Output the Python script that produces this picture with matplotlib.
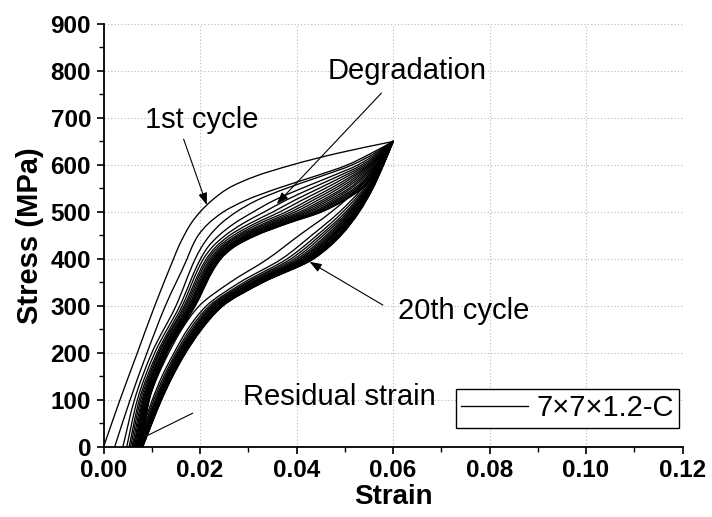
import numpy as np
import matplotlib
matplotlib.use('Agg')
import matplotlib.pyplot as plt
from matplotlib.ticker import MultipleLocator, FormatStrFormatter
from matplotlib.path import Path
from matplotlib.patches import PathPatch
from matplotlib.lines import Line2D

plt.rcParams['font.family'] = ['Liberation Sans', 'DejaVu Sans']

# ---------------- data ----------------
# Loading branches: strain at each stress level, one row per cycle (1..20)
LOAD_STRESS = [0, 100, 200, 300, 400, 425, 450, 475, 500, 525, 550, 575, 600, 625, 650]
LOAD_STRAIN = [
    [.0000, .0034, .0070, .0106, .0145, .0155, .0167, .0181, .0200, .0225, .0258, .0312, .0390, .0485, .0600],
    [.0023, .0055, .0090, .0128, .0173, .0183, .0196, .0217, .0248, .0295, .0360, .0435, .0505, .0555, .0600],
    [.0040, .0064, .0100, .0150, .0190, .0203, .0220, .0243, .0275, .0318, .0378, .0448, .0515, .0562, .0600],
    [.0048, .0070, .0106, .0158, .0201, .0216, .0239, .0270, .0310, .0354, .0410, .0470, .0527, .0567, .0600],
    [.0053, .0074, .0111, .0163, .0207, .0225, .0252, .0288, .0333, .0378, .0430, .0484, .0535, .0571, .0600],
    [.0056, .0077, .0114, .0167, .0213, .0232, .0261, .0302, .0351, .0396, .0446, .0495, .0541, .0574, .0600],
    [.0059, .0080, .0116, .0170, .0217, .0237, .0269, .0313, .0365, .0411, .0459, .0504, .0546, .0576, .0600],
    [.0062, .0082, .0119, .0173, .0221, .0242, .0276, .0322, .0378, .0424, .0470, .0512, .0550, .0578, .0600],
    [.0064, .0084, .0120, .0176, .0224, .0246, .0281, .0331, .0388, .0434, .0479, .0518, .0553, .0579, .0600],
    [.0066, .0085, .0122, .0178, .0227, .0249, .0286, .0338, .0397, .0444, .0487, .0524, .0556, .0581, .0600],
    [.0068, .0087, .0124, .0180, .0229, .0253, .0291, .0344, .0406, .0453, .0495, .0529, .0559, .0582, .0600],
    [.0070, .0088, .0125, .0181, .0231, .0255, .0295, .0350, .0413, .0460, .0501, .0534, .0562, .0583, .0600],
    [.0071, .0089, .0126, .0183, .0233, .0258, .0299, .0355, .0420, .0467, .0508, .0538, .0564, .0584, .0600],
    [.0072, .0091, .0127, .0184, .0235, .0260, .0302, .0360, .0426, .0474, .0513, .0542, .0566, .0585, .0600],
    [.0074, .0092, .0128, .0186, .0237, .0263, .0305, .0365, .0433, .0480, .0519, .0546, .0568, .0586, .0600],
    [.0075, .0093, .0129, .0187, .0239, .0265, .0308, .0369, .0438, .0485, .0523, .0549, .0570, .0587, .0600],
    [.0076, .0093, .0130, .0188, .0240, .0266, .0311, .0372, .0442, .0490, .0527, .0552, .0572, .0588, .0600],
    [.0077, .0094, .0131, .0189, .0241, .0268, .0313, .0376, .0447, .0495, .0531, .0555, .0573, .0588, .0600],
    [.0077, .0094, .0131, .0189, .0242, .0269, .0315, .0378, .0449, .0497, .0534, .0556, .0574, .0589, .0600],
    [.0078, .0095, .0132, .0190, .0243, .0270, .0316, .0380, .0452, .0500, .0536, .0558, .0575, .0589, .0600],
]

# Unloading branches: strain at each stress level, one row per cycle (1..20)
UNLOAD_STRESS = [0, 50, 100, 150, 200, 250, 300, 350, 400, 450, 500, 550, 600, 650]
UNLOAD_STRAIN = [
    [.0060, .0077, .0093, .0112, .0135, .0162, .0198, .0262, .0340, .0405, .0472, .0527, .0567, .0600],
    [.0066, .0084, .0101, .0121, .0146, .0174, .0213, .0282, .0369, .0431, .0489, .0536, .0571, .0600],
    [.0069, .0087, .0104, .0125, .0150, .0179, .0219, .0291, .0380, .0442, .0496, .0540, .0572, .0600],
    [.0071, .0089, .0107, .0128, .0153, .0183, .0223, .0297, .0388, .0449, .0502, .0543, .0574, .0600],
    [.0072, .0090, .0109, .0130, .0155, .0186, .0226, .0301, .0395, .0455, .0506, .0545, .0575, .0600],
    [.0073, .0092, .0110, .0132, .0157, .0188, .0229, .0306, .0401, .0461, .0509, .0547, .0575, .0600],
    [.0074, .0093, .0112, .0133, .0159, .0190, .0232, .0309, .0406, .0465, .0512, .0548, .0576, .0600],
    [.0075, .0094, .0113, .0135, .0161, .0192, .0234, .0312, .0409, .0469, .0514, .0550, .0576, .0600],
    [.0076, .0095, .0114, .0136, .0162, .0194, .0236, .0314, .0413, .0472, .0517, .0551, .0577, .0600],
    [.0077, .0095, .0115, .0137, .0163, .0195, .0237, .0316, .0416, .0475, .0518, .0552, .0577, .0600],
    [.0077, .0096, .0115, .0138, .0164, .0196, .0239, .0318, .0419, .0477, .0520, .0553, .0578, .0600],
    [.0078, .0097, .0116, .0139, .0165, .0197, .0240, .0320, .0422, .0480, .0522, .0554, .0578, .0600],
    [.0079, .0097, .0117, .0139, .0166, .0198, .0241, .0322, .0424, .0482, .0523, .0554, .0579, .0600],
    [.0079, .0098, .0118, .0140, .0167, .0199, .0243, .0324, .0426, .0484, .0525, .0555, .0579, .0600],
    [.0080, .0098, .0118, .0141, .0168, .0200, .0244, .0325, .0428, .0486, .0526, .0556, .0579, .0600],
    [.0080, .0099, .0119, .0141, .0168, .0201, .0245, .0327, .0430, .0488, .0527, .0556, .0579, .0600],
    [.0080, .0099, .0119, .0142, .0169, .0202, .0245, .0328, .0432, .0489, .0528, .0557, .0580, .0600],
    [.0081, .0100, .0119, .0142, .0169, .0202, .0246, .0329, .0433, .0490, .0529, .0557, .0580, .0600],
    [.0081, .0100, .0120, .0143, .0170, .0203, .0247, .0329, .0434, .0491, .0529, .0558, .0580, .0600],
    [.0081, .0100, .0120, .0143, .0170, .0203, .0247, .0330, .0435, .0492, .0530, .0558, .0580, .0600],
]

X_TICKS = [0.00, 0.02, 0.04, 0.06, 0.08, 0.10, 0.12]
Y_TICKS = [0, 100, 200, 300, 400, 500, 600, 700, 800, 900]
LEGEND_LABEL = '7×7×1.2-C'


def smooth_curve_path(strain, stress):
    """Cubic Bezier path through the read points (monotone Hermite in stress)."""
    e = np.asarray(strain, float)
    s = np.asarray(stress, float)
    h = np.diff(s)
    d = np.diff(e) / h
    m = np.empty_like(e)
    m[0], m[-1] = d[0], d[-1]
    for k in range(1, len(e) - 1):
        if d[k - 1] * d[k] <= 0:
            m[k] = 0.0
        else:
            w1 = 2 * h[k] + h[k - 1]
            w2 = h[k] + 2 * h[k - 1]
            m[k] = (w1 + w2) / (w1 / d[k - 1] + w2 / d[k])
    verts = [(e[0], s[0])]
    codes = [Path.MOVETO]
    for k in range(len(e) - 1):
        verts += [(e[k] + m[k] * h[k] / 3, s[k] + h[k] / 3),
                  (e[k + 1] - m[k + 1] * h[k] / 3, s[k + 1] - h[k] / 3),
                  (e[k + 1], s[k + 1])]
        codes += [Path.CURVE4] * 3
    return Path(verts, codes)


# ---------------- figure ----------------
fig = plt.figure(figsize=(7.12, 5.17), dpi=100)
ax = fig.add_axes([0.1454, 0.1354, 0.8132, 0.8182])

lw = 0.95
for strains in LOAD_STRAIN:
    ax.add_patch(PathPatch(smooth_curve_path(strains, LOAD_STRESS), fill=False,
                           edgecolor='black', lw=lw, zorder=3, capstyle='round'))
for strains in UNLOAD_STRAIN:
    ax.add_patch(PathPatch(smooth_curve_path(strains, UNLOAD_STRESS), fill=False,
                           edgecolor='black', lw=lw, zorder=3, capstyle='round'))

ax.set_xlim(X_TICKS[0], X_TICKS[-1])
ax.set_ylim(Y_TICKS[0], Y_TICKS[-1])
ax.set_xticks(X_TICKS)
ax.set_yticks(Y_TICKS)
ax.xaxis.set_minor_locator(MultipleLocator(0.01))
ax.yaxis.set_minor_locator(MultipleLocator(50))
ax.xaxis.set_major_formatter(FormatStrFormatter('%.2f'))

for sp in ['top', 'right']:
    ax.spines[sp].set_visible(False)
for sp in ['left', 'bottom']:
    ax.spines[sp].set_linewidth(1.3)

ax.tick_params(which='major', direction='out', length=5, width=1.2, pad=4,
               labelsize=17.5)
ax.tick_params(which='minor', direction='out', length=3.5, width=1.0)
for lab in ax.get_xticklabels() + ax.get_yticklabels():
    lab.set_fontweight('bold')

ax.grid(True, which='major', color='#b8b8b8', lw=0.8, linestyle=(0, (1, 2)), zorder=0)
ax.set_axisbelow(True)

ax.set_xlabel('Strain', fontsize=20, fontweight='bold')
ax.set_ylabel('Stress (MPa)', fontsize=21, fontweight='bold')
ax.xaxis.set_label_coords(0.5, -0.088)
ax.yaxis.set_label_coords(-0.103, 0.5)

# annotations
fs = 21
ax.text(0.0085, 678, '1st cycle', fontsize=fs, ha='left', va='baseline')
ax.text(0.0465, 782, 'Degradation', fontsize=fs, ha='left', va='baseline')
ax.text(0.0610, 272, '20th cycle', fontsize=fs, ha='left', va='baseline')
ax.text(0.0289, 89, 'Residual strain', fontsize=fs, ha='left', va='baseline')

aprops = dict(arrowstyle='-|>,head_length=0.6,head_width=0.22', color='black',
              lw=0.8, mutation_scale=12, shrinkA=0, shrinkB=0)
ax.annotate('', xy=(0.0214, 515), xytext=(0.0166, 655), arrowprops=aprops, zorder=5)
ax.annotate('', xy=(0.0359, 517), xytext=(0.0576, 753), arrowprops=aprops, zorder=5)
ax.annotate('', xy=(0.0427, 394), xytext=(0.0579, 302), arrowprops=aprops, zorder=5)
ax.annotate('', xy=(0.0092, 25), xytext=(0.0185, 72),
            arrowprops=dict(arrowstyle='-', color='black', lw=0.8, shrinkA=0, shrinkB=0), zorder=5)

handle = Line2D([], [], color='black', lw=lw)
leg = ax.legend([handle], [LEGEND_LABEL], loc='upper left', bbox_to_anchor=(0.608, 0.137),
                borderaxespad=0, fontsize=fs, handlelength=2.3, handletextpad=0.3,
                borderpad=0.18, frameon=True, fancybox=False, shadow=False)
leg.get_frame().set_edgecolor('black')
leg.get_frame().set_linewidth(1.0)
leg.get_frame().set_alpha(1)

fig.savefig('out.png', dpi=100)
